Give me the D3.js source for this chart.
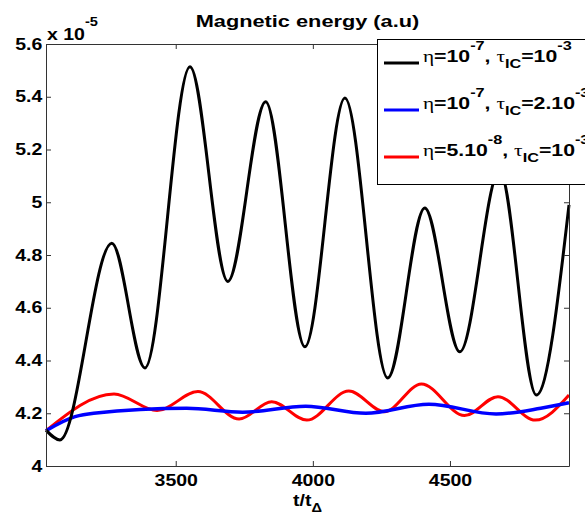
<!DOCTYPE html>
<html>
<head>
<meta charset="utf-8">
<script src="https://cdn.jsdelivr.net/npm/d3@7"></script>
<style>
body { margin: 0; background: #fff; }
text { font-family: "Liberation Sans", Arial, sans-serif; font-weight: bold; fill: #000; }
.greek { font-family: "Liberation Serif", serif; font-weight: normal; }
.axis path, .axis line { stroke: #333; }
</style>
</head>
<body>
<div id="chart"></div>
<script>
// data (energy in units of 1e-5)
var tBlack = [3027, 3078, 3267, 3388, 3552, 3690, 3828, 3971, 4117, 4273, 4408, 4536, 4681, 4815, 4934];
var eBlack = [4.136, 4.099, 4.845, 4.372, 5.514, 4.70, 5.381, 4.452, 5.395, 4.334, 4.978, 4.433, 5.12, 4.269, 4.99];

var tBlue = [3027, 3133, 3201, 3540, 3744, 3974, 4193, 4423, 4668, 4831, 4934];
var eBlue = [4.134, 4.187, 4.20, 4.219, 4.204, 4.227, 4.20, 4.234, 4.197, 4.219, 4.24];

var tRed = [3027, 3275, 3432, 3581, 3731, 3850, 3978, 4131, 4261, 4396, 4553, 4675, 4811, 4934];
var eRed = [4.134, 4.273, 4.21, 4.282, 4.178, 4.244, 4.174, 4.284, 4.206, 4.311, 4.191, 4.263, 4.174, 4.269];

var xTicks = [3500, 4000, 4500];
var yTicks = [4, 4.2, 4.4, 4.6, 4.8, 5, 5.2, 5.4, 5.6];

var series = [
  {t: tBlack, e: eBlack, color: "#000", w: 3, eta: "10", etaExp: "-7", tau: "10", tauExp: "-3"},
  {t: tBlue, e: eBlue, color: "#0000ff", w: 3.5, eta: "10", etaExp: "-7", tau: "2.10", tauExp: "-3"},
  {t: tRed, e: eRed, color: "#ff0000", w: 3, eta: "5.10", etaExp: "-8", tau: "10", tauExp: "-3"}
];

var sx = 1.22; // the picture's text is stretched sideways

var margin = {top: 44, right: 16, bottom: 49, left: 46},
    width = 585 - margin.left - margin.right,
    height = 515 - margin.top - margin.bottom;

var x = d3.scaleLinear().domain([3027, 4934]).range([0, width]);
var y = d3.scaleLinear().domain([4, 5.6]).range([height, 0]);

var svg = d3.select("#chart").append("svg")
    .attr("width", 585)
    .attr("height", 515);

var g = svg.append("g")
    .attr("transform", "translate(" + margin.left + "," + margin.top + ")");

// lines
var line = d3.line()
    .x(function(d) { return x(d[0]); })
    .y(function(d) { return y(d[1]); })
    .curve(d3.curveMonotoneX);

series.slice().reverse().forEach(function(s) {
  g.append("path")
    .datum(d3.zip(s.t, s.e))
    .attr("fill", "none")
    .attr("stroke", s.color)
    .attr("stroke-width", s.w)
    .attr("stroke-linejoin", "round")
    .attr("d", line);
});

// axes, ticks pointing inward on all four sides
var fmt = function(d) { return d3.format("~g")(d); };

g.append("g").attr("class", "axis")
    .attr("transform", "translate(0," + height + ")")
    .call(d3.axisBottom(x).tickValues(xTicks).tickSizeInner(-5).tickSizeOuter(0).tickPadding(9).tickFormat(fmt))
    .call(function(a) { a.selectAll("text").attr("font-size", 16).attr("transform", "scale(" + sx + ",1)"); });

g.append("g").attr("class", "axis")
    .call(d3.axisTop(x).tickValues(xTicks).tickSizeInner(-5).tickSizeOuter(0).tickFormat(""));

g.append("g").attr("class", "axis")
    .call(d3.axisLeft(y).tickValues(yTicks).tickSizeInner(-5).tickSizeOuter(0).tickPadding(3).tickFormat(fmt))
    .call(function(a) { a.selectAll("text").attr("font-size", 16).attr("transform", "scale(" + sx + ",1)"); });

g.append("g").attr("class", "axis")
    .attr("transform", "translate(" + width + ",0)")
    .call(d3.axisRight(y).tickValues(yTicks).tickSizeInner(-5).tickSizeOuter(0).tickFormat(""));

g.selectAll(".axis").attr("font-size", null).attr("font-family", null);

// exponent note
var ex = svg.append("text")
    .attr("transform", "translate(" + 47 + ",40) scale(" + sx + ",1)")
    .attr("font-size", 16);
ex.append("tspan").text("x 10");
ex.append("tspan").attr("font-size", 12).attr("dy", -14).text("-5");

// title
svg.append("text")
    .attr("transform", "translate(" + (margin.left + width / 2) + ",27) scale(1.28,1)")
    .attr("text-anchor", "middle")
    .attr("font-size", 17)
    .text("Magnetic energy (a.u)");

// x label
var xl = svg.append("text")
    .attr("transform", "translate(" + (margin.left + width / 2) + ",506) scale(" + sx + ",1)")
    .attr("text-anchor", "middle")
    .attr("font-size", 16);
xl.append("tspan").text("t/t");
xl.append("tspan").attr("font-size", 12).attr("dy", 6).text("\u0394");

// legend
var legend = svg.append("g");
legend.append("rect")
    .attr("x", 377.5).attr("y", 39.5)
    .attr("width", 300).attr("height", 145)
    .attr("fill", "#fff").attr("stroke", "#000");

var lx = 1.25;
var rowY = [62, 109, 156];
series.forEach(function(s, i) {
  legend.append("line")
    .attr("x1", 384).attr("x2", 419)
    .attr("y1", rowY[i] + 1).attr("y2", rowY[i] + 1)
    .attr("stroke", s.color).attr("stroke-width", 3);
  var tx = legend.append("text")
    .attr("transform", "translate(423," + rowY[i] + ") scale(" + lx + ",1)")
    .attr("font-size", 17);
  tx.append("tspan").attr("class", "greek").text("\u03b7");
  tx.append("tspan").text("=" + s.eta);
  tx.append("tspan").attr("font-size", 13).attr("dy", -12).text(s.etaExp);
  tx.append("tspan").attr("dy", 12).text(", ");
  tx.append("tspan").attr("class", "greek").text("\u03c4");
  tx.append("tspan").attr("font-size", 13).attr("dy", 6).text("IC");
  tx.append("tspan").attr("dy", -6).text("=" + s.tau);
  tx.append("tspan").attr("font-size", 13).attr("dy", -12).text(s.tauExp);
});
</script>
</body>
</html>
